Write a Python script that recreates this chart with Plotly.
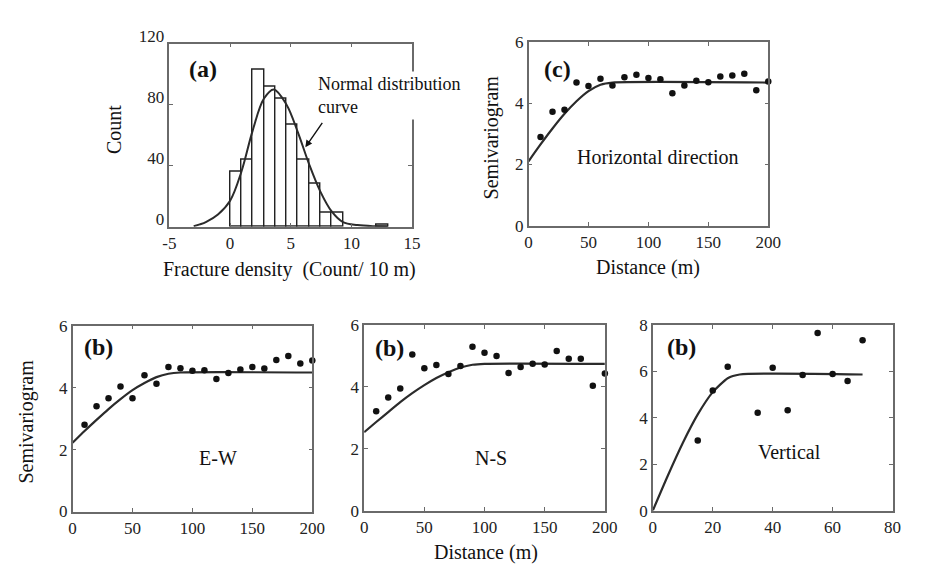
import plotly.graph_objects as go

# ---------------- data ----------------
# (a) histogram of fracture density
hist_bin_starts = [0.0, 0.93, 1.86, 2.79, 3.72, 4.65, 5.58, 6.51, 7.44, 8.37, 12.09]
hist_counts = [36, 44, 103, 92, 84, 67, 44, 28, 9, 9, 1]
hist_bin_width = 0.93
normal_x = [-3, -2.5, -2, -1, 0, 0.93, 1.86, 2.79, 3.6, 4.65, 5.58, 6.51, 7.44, 8.37, 9.3, 10.5, 12, 13]
normal_y = [0.3, 1.5, 3, 8, 17, 36, 63, 84, 90, 80, 62, 41, 23, 10, 3, 1, 0.2, 0]
a_xticks = [-5, 0, 5, 10, 15]
a_xticklabels = ["-5", "0", "5", "10", "15"]
a_yticks = [0, 40, 80, 120]

# (c) horizontal direction semivariogram
c_dist = [10, 20, 30, 40, 50, 60, 70, 80, 90, 100, 110, 120, 130, 140, 150, 160, 170, 180, 190, 200]
c_gamma = [2.89, 3.72, 3.78, 4.67, 4.56, 4.79, 4.57, 4.84, 4.92, 4.82, 4.78, 4.32, 4.57, 4.73, 4.68, 4.87, 4.90, 4.96, 4.42, 4.70]
c_model_x = [0, 10, 20, 30, 40, 50, 60, 70, 200]
c_model_y = [2.10, 2.65, 3.17, 3.65, 4.06, 4.39, 4.60, 4.67, 4.67]

# (b) E-W
ew_dist = [10, 20, 30, 40, 50, 60, 70, 80, 90, 100, 110, 120, 130, 140, 150, 160, 170, 180, 190, 200]
ew_gamma = [2.80, 3.40, 3.66, 4.04, 3.66, 4.40, 4.13, 4.67, 4.63, 4.55, 4.56, 4.28, 4.47, 4.59, 4.67, 4.62, 4.89, 5.02, 4.78, 4.88]
ew_model_x = [0, 10, 20, 30, 40, 50, 60, 70, 80, 90, 200]
ew_model_y = [2.22, 2.60, 2.96, 3.31, 3.63, 3.92, 4.15, 4.34, 4.45, 4.49, 4.49]

# (b) N-S
ns_dist = [10, 20, 30, 40, 50, 60, 70, 80, 90, 100, 110, 120, 130, 140, 150, 160, 170, 180, 190, 200]
ns_gamma = [3.21, 3.65, 3.94, 5.04, 4.60, 4.70, 4.41, 4.67, 5.29, 5.10, 4.99, 4.44, 4.64, 4.74, 4.72, 5.15, 4.90, 4.90, 4.03, 4.43]
ns_model_x = [0, 10, 20, 30, 40, 50, 60, 70, 80, 90, 100, 200]
ns_model_y = [2.53, 2.86, 3.18, 3.50, 3.79, 4.05, 4.28, 4.47, 4.62, 4.71, 4.74, 4.74]

# (b) Vertical
v_dist = [15, 20, 25, 35, 40, 45, 50, 55, 60, 65, 70]
v_gamma = [3.02, 5.17, 6.19, 4.21, 6.15, 4.32, 5.84, 7.65, 5.88, 5.58, 7.33]
v_model_x = [0, 5, 10, 15, 20, 25, 29, 70]
v_model_y = [0, 1.50, 2.91, 4.14, 5.10, 5.70, 5.86, 5.86]

dist_ticks = [0, 50, 100, 150, 200]
semi_ticks6 = [0, 2, 4, 6]
semi_ticks8 = [0, 2, 4, 6, 8]

# ---------------- figure ----------------
W, H = 930, 573
FONT = "Liberation Serif, Times New Roman, serif"
LINE_C = "#2b2b2b"
AXIS_C = "#6a6a6a"

def px_x(a, b):
    return [a / W, b / W]

def px_y(top, bottom):
    return [1 - bottom / H, 1 - top / H]

fig = go.Figure()

# (a) histogram bars
fig.add_trace(go.Bar(
    x=[s + hist_bin_width / 2 for s in hist_bin_starts], y=hist_counts,
    width=hist_bin_width, marker=dict(color="white", line=dict(color="#222", width=1.4)),
    xaxis="x", yaxis="y", showlegend=False))
fig.add_trace(go.Scatter(
    x=normal_x, y=normal_y, mode="lines", line=dict(color=LINE_C, width=2, shape="spline"),
    xaxis="x", yaxis="y", showlegend=False, cliponaxis=False))

def add_semi(xd, yd, mx, my, ax):
    fig.add_trace(go.Scatter(x=mx, y=my, mode="lines",
                             line=dict(color=LINE_C, width=2.2, shape="spline", smoothing=0.6),
                             xaxis="x" + ax, yaxis="y" + ax, showlegend=False, cliponaxis=False))
    fig.add_trace(go.Scatter(x=xd, y=yd, mode="markers",
                             marker=dict(color="#111", size=6.5),
                             xaxis="x" + ax, yaxis="y" + ax, showlegend=False, cliponaxis=False))

add_semi(c_dist, c_gamma, c_model_x, c_model_y, "2")
add_semi(ew_dist, ew_gamma, ew_model_x, ew_model_y, "3")
add_semi(ns_dist, ns_gamma, ns_model_x, ns_model_y, "4")
add_semi(v_dist, v_gamma, v_model_x, v_model_y, "5")

axis_common = dict(showline=True, linecolor=AXIS_C, linewidth=1.5, mirror="ticks",
                   ticks="inside", ticklen=4, tickcolor=AXIS_C, showgrid=False,
                   zeroline=False, tickfont=dict(family=FONT, size=17, color="#222"),
                   fixedrange=True)

layout = dict(
    width=W, height=H, margin=dict(l=0, r=0, t=0, b=0),
    paper_bgcolor="white", plot_bgcolor="white",
    font=dict(family=FONT, color="#222"), bargap=0,
    xaxis=dict(axis_common, domain=px_x(166, 414), range=[-5, 15], tickvals=a_xticks,
               ticktext=a_xticklabels, anchor="y"),
    yaxis=dict(axis_common, domain=px_y(28, 220), range=[0, 120], tickvals=a_yticks, anchor="x",
               ticklabelshift=-8),
    xaxis2=dict(axis_common, domain=px_x(533, 778), range=[0, 200], tickvals=dist_ticks, anchor="y2"),
    yaxis2=dict(axis_common, domain=px_y(26, 219), range=[0, 6], tickvals=semi_ticks6, anchor="x2"),
    xaxis3=dict(axis_common, domain=px_x(67, 312), range=[0, 200], tickvals=dist_ticks, anchor="y3"),
    yaxis3=dict(axis_common, domain=px_y(324, 519), range=[0, 6], tickvals=semi_ticks6, anchor="x3"),
    xaxis4=dict(axis_common, domain=px_x(365, 611), range=[0, 200], tickvals=dist_ticks, anchor="y4"),
    yaxis4=dict(axis_common, domain=px_y(323, 518), range=[0, 6], tickvals=semi_ticks6, anchor="x4"),
    xaxis5=dict(axis_common, domain=px_x(660, 905), range=[0, 80], tickvals=[0, 20, 40, 60, 80], anchor="y5"),
    yaxis5=dict(axis_common, domain=px_y(323, 518), range=[0, 8], tickvals=semi_ticks8, anchor="x5"),
)
fig.update_layout(**layout)

def txt(text, x, y, size=20, bold=False, xanchor="center", yanchor="middle", angle=0, **kw):
    if bold:
        text = "<b>" + text + "</b>"
    fig.add_annotation(text=text, x=x / W, y=1 - y / H, xref="paper", yref="paper",
                       showarrow=False, xanchor=xanchor, yanchor=yanchor, textangle=angle,
                       font=dict(family=FONT, size=size, color="#111"), **kw)

# panel labels
txt("(a)", 184, 55, size=24, bold=True, xanchor="left")
txt("(c)", 547, 55, size=24, bold=True, xanchor="left")
txt("(b)", 77, 346, size=24, bold=True, xanchor="left")
txt("(b)", 374, 347, size=24, bold=True, xanchor="left")
txt("(b)", 672, 346, size=24, bold=True, xanchor="left")

# inner texts
txt("Horizontal direction", 665, 147)
txt("E-W", 216, 463)
txt("N-S", 495, 463)
txt("Vertical", 800, 456)

# axis titles
txt("Count", 110, 118, angle=-90)
txt("Fracture density  (Count/ 10 m)", 289, 265)
txt("Semivariogram", 495, 126, angle=-90)
txt("Distance (m)", 655, 263)
txt("Semivariogram", 20, 425, angle=-90)
txt("Distance (m)", 490, 562)

# normal curve label + arrow
fig.add_annotation(text="Normal distribution<br>curve", x=315 / W, y=1 - 82 / H,
                   xref="paper", yref="paper", showarrow=False, xanchor="left", yanchor="middle",
                   align="left", bgcolor="white", borderpad=2,
                   font=dict(family=FONT, size=18, color="#111"))
fig.add_annotation(text="", x=6.2, y=52, xref="x", yref="y", showarrow=True,
                   ax=18, ay=-26, axref="pixel", ayref="pixel",
                   arrowhead=2, arrowsize=1, arrowwidth=1.4, arrowcolor="#111")

fig.write_html("out.html")
